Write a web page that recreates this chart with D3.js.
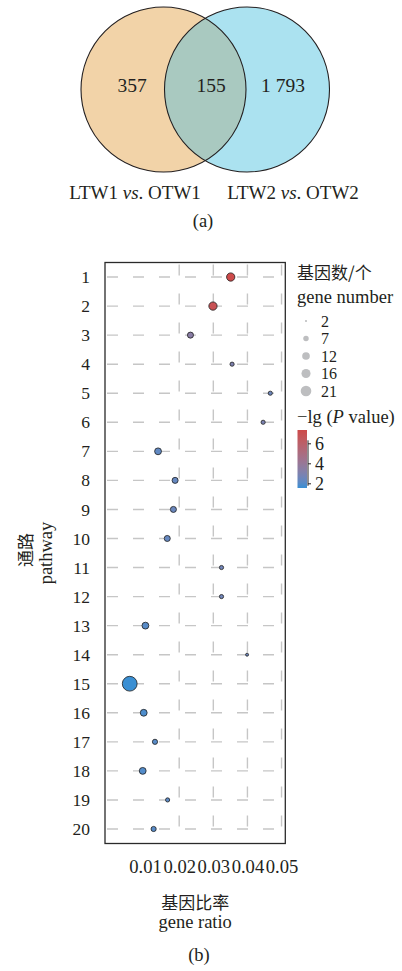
<!DOCTYPE html>
<html>
<head>
<meta charset="utf-8">
<script src="https://cdn.jsdelivr.net/npm/d3@7"></script>
<style>
  body { margin: 0; background: #fff; }
  svg { display: block; }
</style>
</head>
<body>
<svg id="fig" width="402" height="971"></svg>
<script>
// ---- (a) Venn diagram of differentially expressed genes ----
const vennSetLabels = ["LTW1", "OTW1", "LTW2", "OTW2"];
const vennCounts = ["357", "155", "1 793"];

// ---- (b) KEGG pathway enrichment ----
const pathways = ["1","2","3","4","5","6","7","8","9","10","11","12","13","14","15","16","17","18","19","20"];
const geneRatio = [0.0351, 0.0299, 0.0233, 0.0355, 0.0467, 0.0446, 0.0138, 0.0188, 0.0183, 0.0165,
                   0.0324, 0.0324, 0.0101, 0.0399, 0.0055, 0.0096, 0.0129, 0.0093, 0.0166, 0.0125];
const geneCount = [8, 8, 5, 3, 3, 3, 6, 5, 5, 5, 3, 3, 6, 2, 21, 6, 4, 6, 3, 4];
const negLogP   = [7.33, 6.9, 3.4, 3.0, 2.5, 2.9, 2.2, 2.3, 2.4, 2.3,
                   2.6, 2.6, 2.0, 2.5, 1.53, 1.8, 2.0, 1.9, 2.1, 2.0];
const ratioTicks = [0.01, 0.02, 0.03, 0.04, 0.05];
const ratioGrid  = [0.02, 0.03, 0.04, 0.05];
const countBreaks = [2, 7, 12, 16, 21];
const pBreaks = [2, 4, 6];

const svg = d3.select("#fig");
const ink = "#231f20";
const SERIF = "Times New Roman";
const CJK = "Noto Sans CJK SC";

// apply a font face to a selection of text nodes
function face(sel, fam, size) {
  return sel.attr("font-family", fam).attr("font-size", size)
    .style("font-family", `'${fam}'`).attr("fill", ink);
}
// free-standing text, vertically centred on y
function label(x, y, size, cjk) {
  const t = svg.append("text").attr("x", x).attr("y", y).attr("dominant-baseline", "central");
  return face(t, cjk ? CJK : SERIF, size);
}

// ===== Venn =====
const defs = svg.append("defs");
const vr = 82.5, vcy = 89.5, vcx = [163.5, 247];
defs.append("clipPath").attr("id", "leftClip")
  .append("circle").attr("cx", vcx[0]).attr("cy", vcy).attr("r", vr);

svg.append("circle").attr("cx", vcx[0]).attr("cy", vcy).attr("r", vr).attr("fill", "#f2d3a8");
svg.append("circle").attr("cx", vcx[1]).attr("cy", vcy).attr("r", vr).attr("fill", "#abe2f0");
svg.append("circle").attr("cx", vcx[1]).attr("cy", vcy).attr("r", vr)
  .attr("clip-path", "url(#leftClip)").attr("fill", "#a9c9c0");
vcx.forEach(cx => svg.append("circle").attr("cx", cx).attr("cy", vcy).attr("r", vr)
  .attr("fill", "none").attr("stroke", ink).attr("stroke-width", 1.1));

const countX = [132, 211, 283];
vennCounts.forEach((t, i) => label(countX[i], 85, 19.5).attr("text-anchor", "middle").text(t));

function setLabel(x, a, b) {
  const t = label(x, 192, 19).attr("text-anchor", "middle");
  t.append("tspan").text(a + " ");
  t.append("tspan").attr("font-style", "italic").text("vs");
  t.append("tspan").text(". " + b);
}
setLabel(135, vennSetLabels[0], vennSetLabels[1]);
setLabel(293, vennSetLabels[2], vennSetLabels[3]);
label(203, 221, 18.5).attr("text-anchor", "middle").text("(a)");

// ===== Bubble plot =====
const P = { left: 105, right: 285.3, top: 262.5, bottom: 843.5 };
const x = d3.scaleLinear().domain([-0.00175, 0.0511]).range([P.left, P.right]);
const y = d3.scalePoint().domain(pathways).range([P.top, P.bottom]).padding(0.5);
const r = d3.scaleSqrt().domain([2, 21]).range([1.5, 7.4]);
const color = d3.scaleLinear().domain([1.53, 7.33]).range(["#3a8fd3", "#cd4a4a"])
  .interpolate(d3.interpolateLab);

// dashed grid
svg.append("g").selectAll("line").data(pathways).join("line")
  .attr("x1", P.left).attr("x2", P.right)
  .attr("y1", d => y(d)).attr("y2", d => y(d))
  .attr("stroke", "#c6c6c6").attr("stroke-width", 1.4)
  .attr("stroke-dasharray", "11,15").attr("stroke-dashoffset", -2);
svg.append("g").selectAll("line").data(ratioGrid).join("line")
  .attr("x1", d => x(d)).attr("x2", d => x(d))
  .attr("y1", P.top).attr("y2", P.bottom)
  .attr("stroke", "#c6c6c6").attr("stroke-width", 1.4)
  .attr("stroke-dasharray", "11,18").attr("stroke-dashoffset", -2);

// points
const rows = pathways.map((p, i) => ({ p, ratio: geneRatio[i], n: geneCount[i], v: negLogP[i] }));
svg.append("g").selectAll("circle").data(rows).join("circle")
  .attr("cx", d => x(d.ratio)).attr("cy", d => y(d.p)).attr("r", d => r(d.n))
  .attr("fill", d => color(d.v)).attr("stroke", "#1e1e1e").attr("stroke-width", 0.8);

// frame
svg.append("rect").attr("x", P.left).attr("y", P.top)
  .attr("width", P.right - P.left).attr("height", P.bottom - P.top)
  .attr("fill", "none").attr("stroke", "#2a2a2a").attr("stroke-width", 1.3);

// y axis
const yAxis = svg.append("g").attr("transform", `translate(${P.left},0)`)
  .call(d3.axisLeft(y).tickSize(0).tickPadding(15));
yAxis.select(".domain").remove();
face(yAxis, SERIF, 17.5);
face(yAxis.selectAll("text"), SERIF, 17.5);

// x axis
const xAxis = svg.append("g").attr("transform", `translate(0,${P.bottom})`)
  .call(d3.axisBottom(x).tickValues(ratioTicks).tickFormat(d3.format(".2f")).tickSize(0).tickPadding(16));
xAxis.select(".domain").remove();
face(xAxis, SERIF, 18.6);
face(xAxis.selectAll("text"), SERIF, 18.6);

// axis titles
const cx = (P.left + P.right) / 2;
label(cx, 901, 17, true).attr("text-anchor", "middle").text("基因比率");
label(cx, 922, 18.5).attr("text-anchor", "middle").text("gene ratio");
label(199, 955, 18.5).attr("text-anchor", "middle").text("(b)");

const cy = (P.top + P.bottom) / 2;
label(0, 0, 17, true).attr("transform", `translate(24,${cy - 3}) rotate(-90)`)
  .attr("text-anchor", "middle").text("通路");
label(0, 0, 18.5).attr("transform", `translate(46,${cy}) rotate(-90)`)
  .attr("text-anchor", "middle").text("pathway");

// ===== Legends =====
label(297, 271, 17, true).text("基因数/个");
label(297, 297, 18.5).text("gene number");

const sizeY = d3.scalePoint().domain(countBreaks).range([321, 391]);
svg.append("g").selectAll("circle").data(countBreaks).join("circle")
  .attr("cx", 306).attr("cy", d => sizeY(d)).attr("r", d => r(d) * 0.72).attr("fill", "#bdbec0");
countBreaks.forEach(d => label(321, sizeY(d), 16).text(d));

const pt = label(297, 417, 18.5);
pt.append("tspan").text("\u2212lg (");
pt.append("tspan").attr("font-style", "italic").text("P");
pt.append("tspan").text(" value)");

// colour bar
const barY = d3.scaleLinear().domain(color.domain()).range([488, 430]);
const grad = defs.append("linearGradient").attr("id", "pgrad")
  .attr("x1", 0).attr("y1", 1).attr("x2", 0).attr("y2", 0);
d3.range(0, 1.0001, 0.1).forEach(t => {
  const v = color.domain()[0] + t * (color.domain()[1] - color.domain()[0]);
  grad.append("stop").attr("offset", t).attr("stop-color", color(v));
});
svg.append("rect").attr("x", 297.5).attr("y", barY.range()[1]).attr("width", 9.5)
  .attr("height", barY.range()[0] - barY.range()[1]).attr("fill", "url(#pgrad)");
const barAxis = svg.append("g").attr("transform", "translate(308,0)")
  .call(d3.axisRight(barY).tickValues(pBreaks).tickFormat(d3.format("d"))
    .tickSize(3).tickSizeOuter(0).tickPadding(4));
barAxis.select(".domain").attr("stroke", ink).attr("stroke-width", 1)
  .attr("d", `M0,${barY(6.3)}V${barY(1.75)}`);
barAxis.selectAll("line").attr("stroke", ink);
face(barAxis, SERIF, 18);
face(barAxis.selectAll("text"), SERIF, 18);
</script>
</body>
</html>
